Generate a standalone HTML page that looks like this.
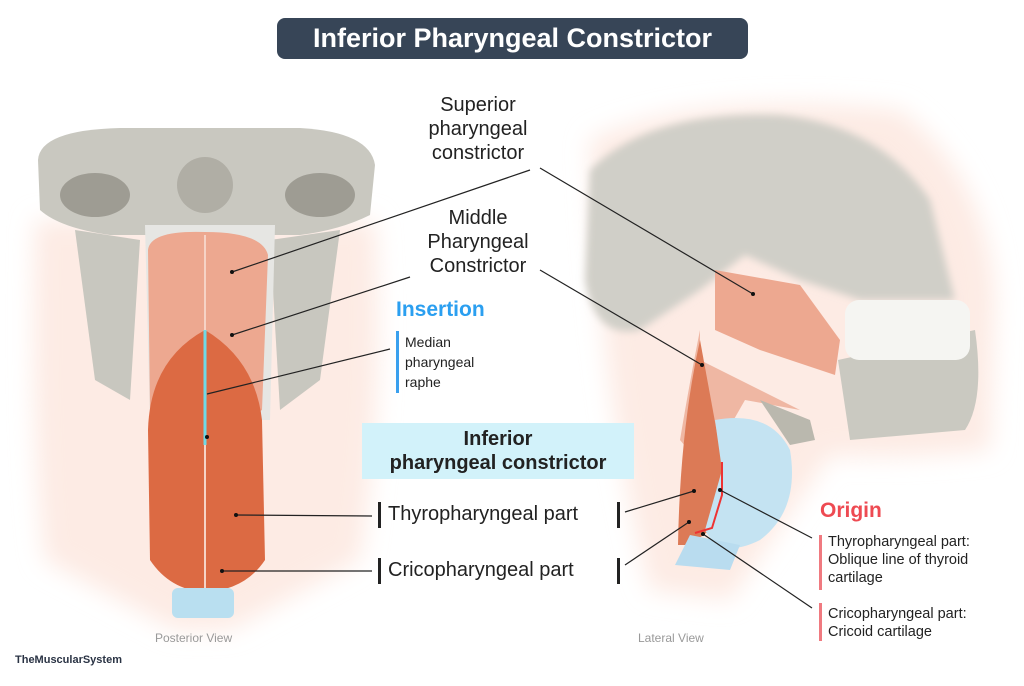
<!DOCTYPE html>
<html><head><meta charset="utf-8"><style>
body{margin:0;background:#fff;width:1024px;height:686px;overflow:hidden;position:relative;font-family:"Liberation Sans",sans-serif}
.t{position:absolute;color:#222;white-space:nowrap}
</style></head><body>
<svg width="1024" height="686" style="position:absolute;left:0;top:0">
<defs>
<filter id="b"><feGaussianBlur stdDeviation="12"/></filter>
<filter id="s"><feGaussianBlur stdDeviation="4"/></filter>
</defs>
<!-- left background -->
<path d="M35 220 Q30 450 45 560 L175 630 L230 630 L360 560 Q385 400 375 220 Z" fill="#fdebe4" filter="url(#b)"/>
<!-- left skull -->
<path d="M38 160 Q40 130 120 128 L300 128 Q370 132 375 165 L370 215 Q340 230 300 235 L110 235 Q60 228 40 210 Z" fill="#c9c8c0"/>
<ellipse cx="95" cy="195" rx="35" ry="22" fill="#9e9c93"/><ellipse cx="320" cy="195" rx="35" ry="22" fill="#9e9c93"/>
<ellipse cx="205" cy="185" rx="28" ry="28" fill="#b0aea5"/>
<path d="M75 230 L140 240 L130 400 L95 380 Z" fill="#c8c7bf"/>
<path d="M340 230 L270 240 L280 410 L320 380 Z" fill="#c8c7bf"/>
<path d="M145 225 L275 225 L270 420 L150 420 Z" fill="#e6e6e3"/>
<path d="M148 250 Q150 230 205 232 Q262 232 268 255 L262 410 Q240 425 205 420 Q170 425 150 410 Z" fill="#eda890"/>
<path d="M205 330 Q150 360 148 430 L150 560 Q170 590 205 592 Q245 590 265 560 L262 420 Q255 360 205 330 Z" fill="#dc6a43"/>
<line x1="205" y1="235" x2="205" y2="590" stroke="#f6d3c6" stroke-width="2"/>
<line x1="205" y1="330" x2="205" y2="445" stroke="#6fd9e6" stroke-width="3"/>
<rect x="172" y="588" width="62" height="30" rx="6" fill="#b9dff0"/>
<!-- right background -->
<path d="M590 140 Q700 90 900 110 Q990 180 995 300 L990 450 Q900 460 830 455 L730 600 L650 590 Q600 400 590 140 Z" fill="#fdebe4" filter="url(#b)"/>
<!-- right skull -->
<path d="M590 170 Q650 110 780 115 Q880 125 930 200 L955 300 L860 300 L800 280 L745 255 L700 290 L640 330 Q595 340 585 280 Z" fill="#d0cfc8" filter="url(#s)"/>
<path d="M838 360 L975 330 Q985 400 965 430 L850 440 Z" fill="#cac9c1"/>
<rect x="845" y="300" width="125" height="60" rx="14" fill="#f5f5f2"/>
<path d="M715 270 L800 285 L840 340 L835 375 L760 350 L715 330 Z" fill="#eda890"/>
<path d="M700 330 Q690 380 680 440 L705 470 L745 400 L800 410 L700 360 Z" fill="#efb7a3"/>
<path d="M700 340 L722 460 L722 495 L710 530 L690 545 L678 545 Q680 430 700 340 Z" fill="#dc7a56"/>
<path d="M715 420 Q770 410 790 450 Q800 510 760 540 Q720 560 705 530 L722 470 Z" fill="#c4e3f2"/>
<path d="M690 535 L740 545 L730 570 L675 565 Z" fill="#b9dcef"/>
<path d="M760 400 L810 420 L815 440 L790 445 Z" fill="#bab8ae"/>
<path d="M722 462 L722 495 L712 528 L695 533" fill="none" stroke="#e33" stroke-width="2"/>
<!-- leader lines -->
<g stroke="#222" stroke-width="1.2" fill="none">
<line x1="530" y1="170" x2="232" y2="272"/>
<line x1="540" y1="168" x2="753" y2="294"/>
<line x1="410" y1="277" x2="232" y2="335"/>
<line x1="540" y1="270" x2="702" y2="365"/>
<line x1="390" y1="349" x2="207" y2="394"/>
<line x1="372" y1="516" x2="236" y2="515"/>
<line x1="625" y1="512" x2="694" y2="491"/>
<line x1="372" y1="571" x2="222" y2="571"/>
<line x1="625" y1="565" x2="689" y2="522"/>
<line x1="720" y1="490" x2="812" y2="538"/>
<line x1="703" y1="534" x2="812" y2="608"/>
</g>
<g fill="#111"><circle cx="232" cy="272" r="2"/><circle cx="753" cy="294" r="2"/><circle cx="232" cy="335" r="2"/><circle cx="702" cy="365" r="2"/><circle cx="207" cy="437" r="2"/><circle cx="236" cy="515" r="2"/><circle cx="694" cy="491" r="2"/><circle cx="222" cy="571" r="2"/><circle cx="689" cy="522" r="2"/><circle cx="720" cy="490" r="2"/><circle cx="703" cy="534" r="2"/></g>
<!-- bars -->
<rect x="396" y="331" width="3" height="62" fill="#3aa0ee"/>
<rect x="378" y="502" width="3" height="26" fill="#222"/><rect x="617" y="502" width="3" height="26" fill="#222"/>
<rect x="378" y="558" width="3" height="26" fill="#222"/><rect x="617" y="558" width="3" height="26" fill="#222"/>
<rect x="819" y="535" width="3" height="55" fill="#f07a80"/>
<rect x="819" y="603" width="3" height="38" fill="#f07a80"/>
<rect x="362" y="423" width="272" height="56" fill="#d2f2fa"/>
<rect x="277" y="18" width="471" height="41" rx="8" fill="#374557"/>
</svg>
<div class="t" style="left:277px;top:18px;width:471px;height:41px;line-height:40px;text-align:center;color:#fff;font-weight:bold;font-size:27px">Inferior Pharyngeal Constrictor</div>
<div class="t" style="left:378px;top:93px;width:200px;text-align:center;font-size:20px;line-height:24px">Superior<br>pharyngeal<br>constrictor</div>
<div class="t" style="left:378px;top:206px;width:200px;text-align:center;font-size:20px;line-height:24px">Middle<br>Pharyngeal<br>Constrictor</div>
<div class="t" style="left:396px;top:298px;font-size:21px;font-weight:bold;color:#2b9ff0">Insertion</div>
<div class="t" style="left:405px;top:332px;font-size:14px;line-height:20px">Median<br>pharyngeal<br>raphe</div>
<div class="t" style="left:362px;top:427px;width:272px;text-align:center;font-size:20px;font-weight:bold;line-height:24px">Inferior<br>pharyngeal constrictor</div>
<div class="t" style="left:388px;top:503px;font-size:20px">Thyropharyngeal part</div>
<div class="t" style="left:388px;top:559px;font-size:20px">Cricopharyngeal part</div>
<div class="t" style="left:820px;top:499px;font-size:21px;font-weight:bold;color:#ee4a52">Origin</div>
<div class="t" style="left:828px;top:533px;font-size:14.5px;line-height:18px">Thyropharyngeal part:<br>Oblique line of thyroid<br>cartilage</div>
<div class="t" style="left:828px;top:605px;font-size:14.5px;line-height:18px">Cricopharyngeal part:<br>Cricoid cartilage</div>
<div class="t" style="left:155px;top:631px;font-size:12px;color:#999">Posterior View</div>
<div class="t" style="left:638px;top:631px;font-size:12px;color:#999">Lateral View</div>
<div class="t" style="left:15px;top:654px;font-size:11px;font-weight:bold;color:#2a3344">TheMuscularSystem</div>
</body></html>
